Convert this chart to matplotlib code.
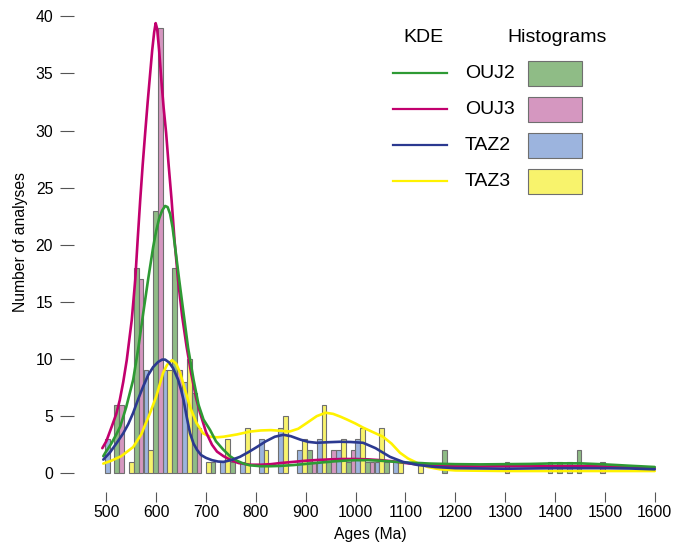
import numpy as np
import matplotlib
matplotlib.use("Agg")
import matplotlib.pyplot as plt
from matplotlib.patches import Rectangle

plt.rcParams['font.family'] = ['Liberation Sans', 'DejaVu Sans']

# left edge (Ma) of each group of four histogram bars (TAZ2, TAZ3, OUJ2, OUJ3)
group_age = [497, 536, 575, 613, 652, 690, 729, 768, 806, 845, 883, 922, 961, 999,
             1038, 1076, 1115, 1154, 1192, 1231, 1270, 1308, 1347, 1385, 1424, 1462, 1501]
taz2_counts = [3, 0, 9, 9, 8, 0, 1, 1, 3, 4, 2, 3, 2, 3, 1, 1, 0, 0, 0, 0, 0, 0, 0, 1, 1, 0, 0]
taz3_counts = [0, 1, 2, 9, 10, 1, 3, 4, 2, 5, 3, 6, 3, 4, 4, 1, 1, 0, 0, 0, 0, 0, 0, 0, 0, 0, 0]
ouj2_counts = [6, 18, 23, 18, 7, 1, 1, 0, 0, 0, 2, 1, 1, 1, 1, 0, 0, 2, 0, 0, 0, 0, 0, 1, 2, 0, 0]
ouj3_counts = [6, 17, 39, 9, 4, 0, 0, 0, 0, 0, 1, 2, 2, 1, 0, 0, 0, 0, 0, 0, 1, 0, 0, 0, 0, 1, 0]

# KDE curves (age in Ma, number of analyses)
ouj3_kde_age = [492, 500, 511, 520, 527, 534, 541, 547, 551, 558, 563, 568, 573, 578, 583,
                588, 592, 596, 599, 602, 606, 611, 615, 620, 625, 631, 637, 644, 652, 661,
                670, 680, 688, 700, 712, 722, 735, 750, 765, 788, 810, 830, 850, 875, 900,
                925, 950, 975, 1000, 1025, 1050, 1075, 1100, 1125, 1150, 1175, 1200, 1250,
                1300, 1350, 1400, 1450, 1500, 1550, 1600]
ouj3_kde_val = [2.2, 2.8, 4.1, 5.2, 6.4, 8.0, 9.9, 12.0, 13.4, 16.9, 20.5, 23.9, 27.0, 29.8,
                32.5, 35.0, 37.0, 38.6, 39.4, 38.9, 37.0, 34.1, 32.0, 29.8, 27.0, 23.9, 20.3,
                16.9, 13.8, 11.1, 8.8, 6.6, 5.3, 3.6, 2.5, 1.9, 1.5, 1.15, 0.9, 0.75, 0.75,
                0.8, 0.9, 1.0, 1.1, 1.17, 1.22, 1.25, 1.25, 1.22, 1.15, 1.05, 0.9, 0.78, 0.7,
                0.65, 0.62, 0.6, 0.62, 0.63, 0.63, 0.63, 0.6, 0.53, 0.45]
ouj2_kde_age = [494, 498, 510, 520, 528, 540, 554, 564, 574, 584, 594, 600, 606, 612, 618,
                623, 628, 633, 638, 646, 655, 664, 675, 685, 695, 708, 720, 734, 748, 762,
                775, 788, 810, 830, 850, 875, 900, 925, 950, 975, 1000, 1025, 1050, 1075,
                1100, 1150, 1200, 1250, 1300, 1350, 1400, 1450, 1500, 1550, 1600]
ouj2_kde_val = [1.5, 1.8, 2.6, 3.4, 4.1, 5.8, 8.2, 10.9, 14.0, 17.0, 19.8, 21.2, 22.3, 23.0,
                23.4, 23.3, 22.7, 21.5, 19.8, 17.0, 14.0, 11.0, 8.2, 6.0, 4.7, 3.8, 2.8, 2.1,
                1.5, 1.1, 0.85, 0.7, 0.62, 0.62, 0.65, 0.72, 0.82, 0.92, 1.02, 1.1, 1.15,
                1.15, 1.1, 1.02, 0.95, 0.85, 0.8, 0.78, 0.8, 0.82, 0.87, 0.87, 0.78, 0.66, 0.55]
taz2_kde_age = [494, 507, 520, 534, 544, 554, 564, 574, 584, 594, 604, 612, 618, 626, 634,
                640, 644, 650, 655, 661, 668, 675, 682, 690, 700, 712, 724, 735, 750, 768,
                785, 802, 820, 838, 855, 870, 889, 905, 922, 945, 969, 990, 1015, 1040, 1069,
                1095, 1123, 1160, 1200, 1300, 1400, 1500, 1550, 1600]
taz2_kde_val = [1.2, 1.8, 2.6, 3.5, 4.3, 5.3, 6.5, 7.6, 8.6, 9.3, 9.75, 9.95, 9.95, 9.7, 9.2,
                8.6, 8.2, 7.3, 6.4, 5.0, 3.5, 2.6, 2.05, 1.6, 1.35, 1.15, 1.03, 1.0, 1.15,
                1.44, 1.85, 2.3, 2.8, 3.2, 3.37, 3.25, 2.95, 2.75, 2.67, 2.72, 2.76, 2.74,
                2.67, 2.2, 1.44, 1.0, 0.74, 0.55, 0.45, 0.4, 0.45, 0.45, 0.42, 0.35]
taz3_kde_age = [494, 510, 530, 554, 570, 588, 600, 614, 622, 632, 640, 648, 656, 668, 681,
                694, 708, 722, 735, 762, 788, 810, 830, 850, 868, 885, 902, 922, 940, 955,
                970, 983, 1000, 1015, 1035, 1055, 1072, 1089, 1105, 1123, 1145, 1169, 1200,
                1300, 1400, 1500, 1600]
taz3_kde_val = [0.85, 1.1, 1.5, 2.3, 3.4, 5.3, 6.7, 8.8, 9.5, 9.9, 9.6, 8.8, 7.6, 5.8, 4.4,
                3.5, 3.2, 3.15, 3.2, 3.4, 3.65, 3.75, 3.78, 3.72, 3.66, 3.9, 4.4, 5.0, 5.3,
                5.2, 4.95, 4.7, 4.35, 4.0, 3.6, 3.2, 2.6, 1.8, 1.3, 0.92, 0.55, 0.35, 0.25,
                0.2, 0.2, 0.2, 0.2]

names = ['OUJ2', 'OUJ3', 'TAZ2', 'TAZ3']
line_colors = ['#2e9a34', '#c2006e', '#2b3990', '#fff200']
fill_colors = ['#8fbc86', '#d597c0', '#9cb4de', '#f8f36c']

fig = plt.figure(figsize=(6.87, 5.47), dpi=100)
ax = fig.add_axes([0.13295, 0.11803, 0.84186, 0.87307])

# histograms: four bars side by side in each group
bar_w = 9.65
hist_sets = [(taz2_counts, 2, 0), (taz3_counts, 3, 1), (ouj2_counts, 0, 2), (ouj3_counts, 1, 3)]
ages = np.array(group_age, dtype=float)
for counts, ci, slot in hist_sets:
    c = np.array(counts, dtype=float)
    m = c > 0
    ax.bar(ages[m] + slot * bar_w, c[m], width=bar_w, align='edge',
           color=fill_colors[ci], edgecolor='#6f6f6f', linewidth=0.8, zorder=2)

# KDE curves
kw = dict(lw=1.9, solid_joinstyle='round', solid_capstyle='round')
ax.plot(taz3_kde_age, taz3_kde_val, color=line_colors[3], zorder=3, **kw)
ax.plot(ouj3_kde_age, ouj3_kde_val, color=line_colors[1], zorder=4, **kw)
ax.plot(ouj2_kde_age, ouj2_kde_val, color=line_colors[0], zorder=5, **kw)
ax.plot(taz2_kde_age, taz2_kde_val, color=line_colors[2], zorder=6, **kw)

ax.set_xlim(470, 1630)
ax.set_ylim(-0.8, 41)
ax.set_xticks(range(500, 1601, 100))
ax.set_yticks(range(0, 41, 5))
for s in ['top', 'right']:
    ax.spines[s].set_visible(False)
ax.spines['left'].set_position(('outward', 12.5))
ax.spines['bottom'].set_position(('outward', 6.7))
ax.spines['left'].set_visible(False)
ax.spines['bottom'].set_visible(False)
ax.tick_params(axis='y', length=10, width=0.8, color='#555555', pad=5, labelsize=11.3)
ax.tick_params(axis='x', length=7.2, width=0.8, color='#555555', pad=2.5, labelsize=11.3)

fig.text(21 / 687, 1 - 242 / 547, 'Number of analyses', rotation=90,
         ha='center', va='center', fontsize=11.3)
fig.text(370 / 687, 1 - 535 / 547, 'Ages (Ma)', ha='center', va='center', fontsize=11.3)

# legend drawn in pixel coordinates on an overlay
lg = fig.add_axes([0, 0, 1, 1], zorder=10)
lg.set_xlim(0, 687)
lg.set_ylim(547, 0)
lg.axis('off')
lg.text(423, 38, 'KDE', ha='center', va='center', fontsize=14)
lg.text(557, 38, 'Histograms', ha='center', va='center', fontsize=14)
rows_y = [73, 109, 145, 181]
for i, name in enumerate(names):
    y = rows_y[i]
    lg.plot([393, 447], [y, y], color=line_colors[i], lw=1.6)
    lg.text(465, y, name, ha='left', va='center', fontsize=14)
    lg.add_patch(Rectangle((528, y - 12.5), 54, 25, facecolor=fill_colors[i],
                           edgecolor='#6f6f6f', linewidth=0.8))

fig.savefig('out.png', dpi=100)
